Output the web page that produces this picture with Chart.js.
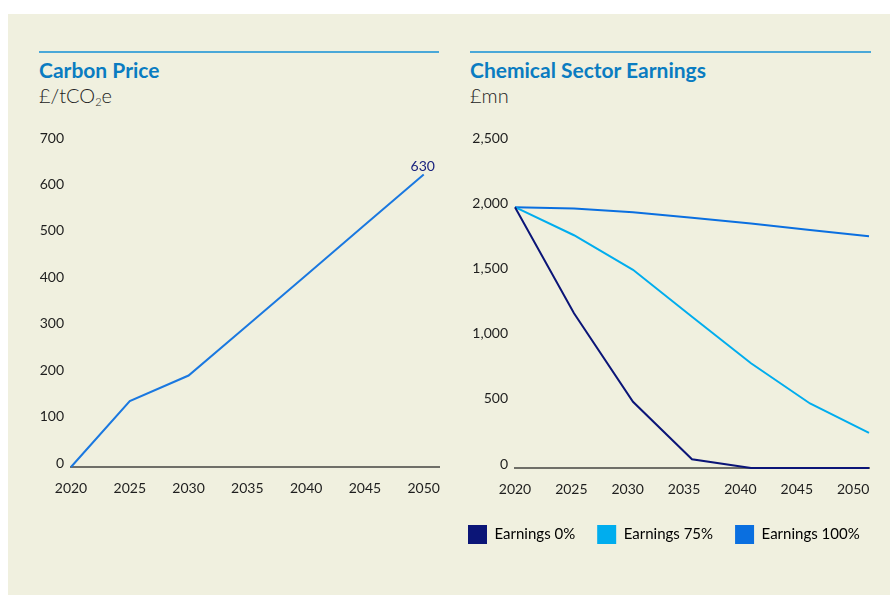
<!DOCTYPE html>
<html>
<head>
<meta charset="utf-8">
<script src="https://cdn.jsdelivr.net/npm/chart.js@4"></script>
<style>
  html, body { margin: 0; padding: 0; background: #ffffff; }
  body { width: 890px; height: 595px; position: relative; overflow: hidden; font-family: Lato, "Open Sans", sans-serif; }
  #panel { position: absolute; left: 8px; top: 14px; right: 0; bottom: 0; background: #f0f0df; }
  .block { position: absolute; top: 51px; border-top: 2px solid #4aa8d8; }
  .block h2 { margin: 0; position: absolute; top: 4px; left: 0; font-size: 21px; font-weight: 700; color: #0a7cc1; white-space: nowrap; }
  .block .unit { position: absolute; top: 30px; left: 0; font-size: 20px; font-weight: 300; color: #222222; white-space: nowrap; }
  .block .unit sub { font-size: 11px; vertical-align: -3px; }
  .cv { position: absolute; }
</style>
</head>
<body>
<div id="panel"></div>

<div class="block" style="left:39px; width:400px;">
  <h2>Carbon Price</h2>
  <div class="unit">£/tCO<sub>2</sub>e</div>
</div>
<div class="block" style="left:470px; width:401px;">
  <h2>Chemical Sector Earnings</h2>
  <div class="unit">£mn</div>
</div>

<div class="cv" style="left:39px; top:110px; width:410px; height:390px;">
  <canvas id="carbonChart"></canvas>
</div>
<div class="cv" style="left:446px; top:110px; width:444px; height:444px;">
  <canvas id="earningsChart"></canvas>
</div>

<script>
// years on the x axis
let years = [2020, 2025, 2030, 2035, 2040, 2045, 2050];

// carbon price, £/tCO2e
let carbonPrice = [0, 142, 197, 305, 413, 522, 630];

// chemical sector earnings, £mn
let earnings0 = [2000, 1187, 508, 67, 0, 0, 0];
let earnings75 = [2000, 1785, 1520, 1160, 803, 495, 269];
let earnings100 = [2000, 1990, 1962, 1920, 1875, 1825, 1777];

let seriesNames = ['Earnings 0%', 'Earnings 75%', 'Earnings 100%'];
let seriesColors = ['#0b1577', '#00adee', '#0a6fe0'];

const textColor = '#1e1e1e';
const tickFont = { family: 'Lato', size: 14 };

function toPoints(values) {
  return values.map((v, i) => ({ x: years[i], y: v }));
}

// x axis: fixed height, and no extra side padding for the end labels
function fitX(axis, h) {
  axis.height = h;
  axis.paddingLeft = 0;
  axis.paddingRight = 0;
}

// writes the last value of the carbon line above its end point
const endLabel = {
  id: 'endLabel',
  afterDatasetsDraw(chart) {
    let meta = chart.getDatasetMeta(0);
    let last = meta.data[meta.data.length - 1];
    let ctx = chart.ctx;
    ctx.save();
    ctx.font = '14px Lato';
    ctx.fillStyle = '#1a237e';
    ctx.textAlign = 'center';
    ctx.textBaseline = 'bottom';
    ctx.fillText(String(carbonPrice[carbonPrice.length - 1]), last.x - 1, last.y - 1);
    ctx.restore();
  }
};

new Chart(document.getElementById('carbonChart'), {
  type: 'line',
  data: {
    datasets: [{
      data: toPoints(carbonPrice),
      borderColor: '#1a78e0',
      borderWidth: 2,
      pointRadius: 0,
      tension: 0,
      clip: 4
    }]
  },
  options: {
    responsive: true,
    maintainAspectRatio: false,
    animation: false,
    layout: { padding: { top: 32, right: 10, left: 0, bottom: 0 } },
    plugins: { legend: { display: false }, tooltip: { enabled: false } },
    scales: {
      x: {
        type: 'linear',
        min: 2020,
        max: 2051.3,
        afterFit: (axis) => fitX(axis, 33),
        grid: { display: false, drawTicks: false },
        border: { display: true, color: '#6f6f68', width: 2 },
        ticks: {
          stepSize: 5, includeBounds: false, padding: 13, color: textColor, font: tickFont,
          maxRotation: 0, autoSkip: false, callback: (v) => String(v)
        }
      },
      y: {
        min: 0,
        max: 700,
        afterFit: (axis) => { axis.width = 32; },
        grid: { display: false, drawTicks: false },
        border: { display: false },
        ticks: { stepSize: 100, padding: 7, labelOffset: -4, color: textColor, font: tickFont }
      }
    }
  },
  plugins: [endLabel]
});

new Chart(document.getElementById('earningsChart'), {
  type: 'line',
  data: {
    datasets: [earnings0, earnings75, earnings100].map((vals, i) => ({
      label: seriesNames[i],
      data: toPoints(vals),
      borderColor: seriesColors[i],
      backgroundColor: seriesColors[i],
      borderWidth: 2,
      pointRadius: 0,
      tension: 0,
      clip: 4,
      xAxisID: 'x'
    }))
  },
  options: {
    responsive: true,
    maintainAspectRatio: false,
    animation: false,
    layout: { padding: { top: 32, right: 0, left: 0, bottom: 0 } },
    plugins: {
      tooltip: { enabled: false },
      legend: {
        position: 'bottom',
        align: 'start',
        labels: {
          boxWidth: 19,
          boxHeight: 19,
          padding: 22,
          color: textColor,
          font: { family: 'Lato', size: 15 },
          generateLabels: (chart) => seriesNames.map((name, i) => ({
            text: name,
            fillStyle: seriesColors[i],
            strokeStyle: seriesColors[i],
            lineWidth: 0,
            datasetIndex: i
          }))
        }
      }
    },
    scales: {
      x: {
        type: 'linear',
        display: false,
        min: 2020,
        max: 2050
      },
      xLabels: {
        type: 'linear',
        position: 'bottom',
        min: 2020,
        max: 2051.4,
        afterFit: (axis) => fitX(axis, 35),
        grid: { display: false, drawTicks: false },
        border: { display: true, color: '#6f6f68', width: 2 },
        ticks: {
          stepSize: 5, includeBounds: false, padding: 13, color: textColor, font: tickFont,
          maxRotation: 0, autoSkip: false, callback: (v) => String(v)
        }
      },
      y: {
        min: 0,
        max: 2500,
        afterFit: (axis) => { axis.width = 69; },
        grid: { display: false, drawTicks: false },
        border: { display: false },
        ticks: {
          stepSize: 500, padding: 7, labelOffset: -4, color: textColor, font: tickFont,
          callback: (v) => v.toLocaleString('en-US')
        }
      },
      // empty strip on the right so the plot ends short of the page edge
      rightGap: {
        position: 'right',
        display: true,
        afterFit: (axis) => { axis.width = 21; },
        grid: { display: false, drawTicks: false },
        border: { display: false },
        ticks: { display: false }
      }
    }
  }
});
</script>
</body>
</html>
